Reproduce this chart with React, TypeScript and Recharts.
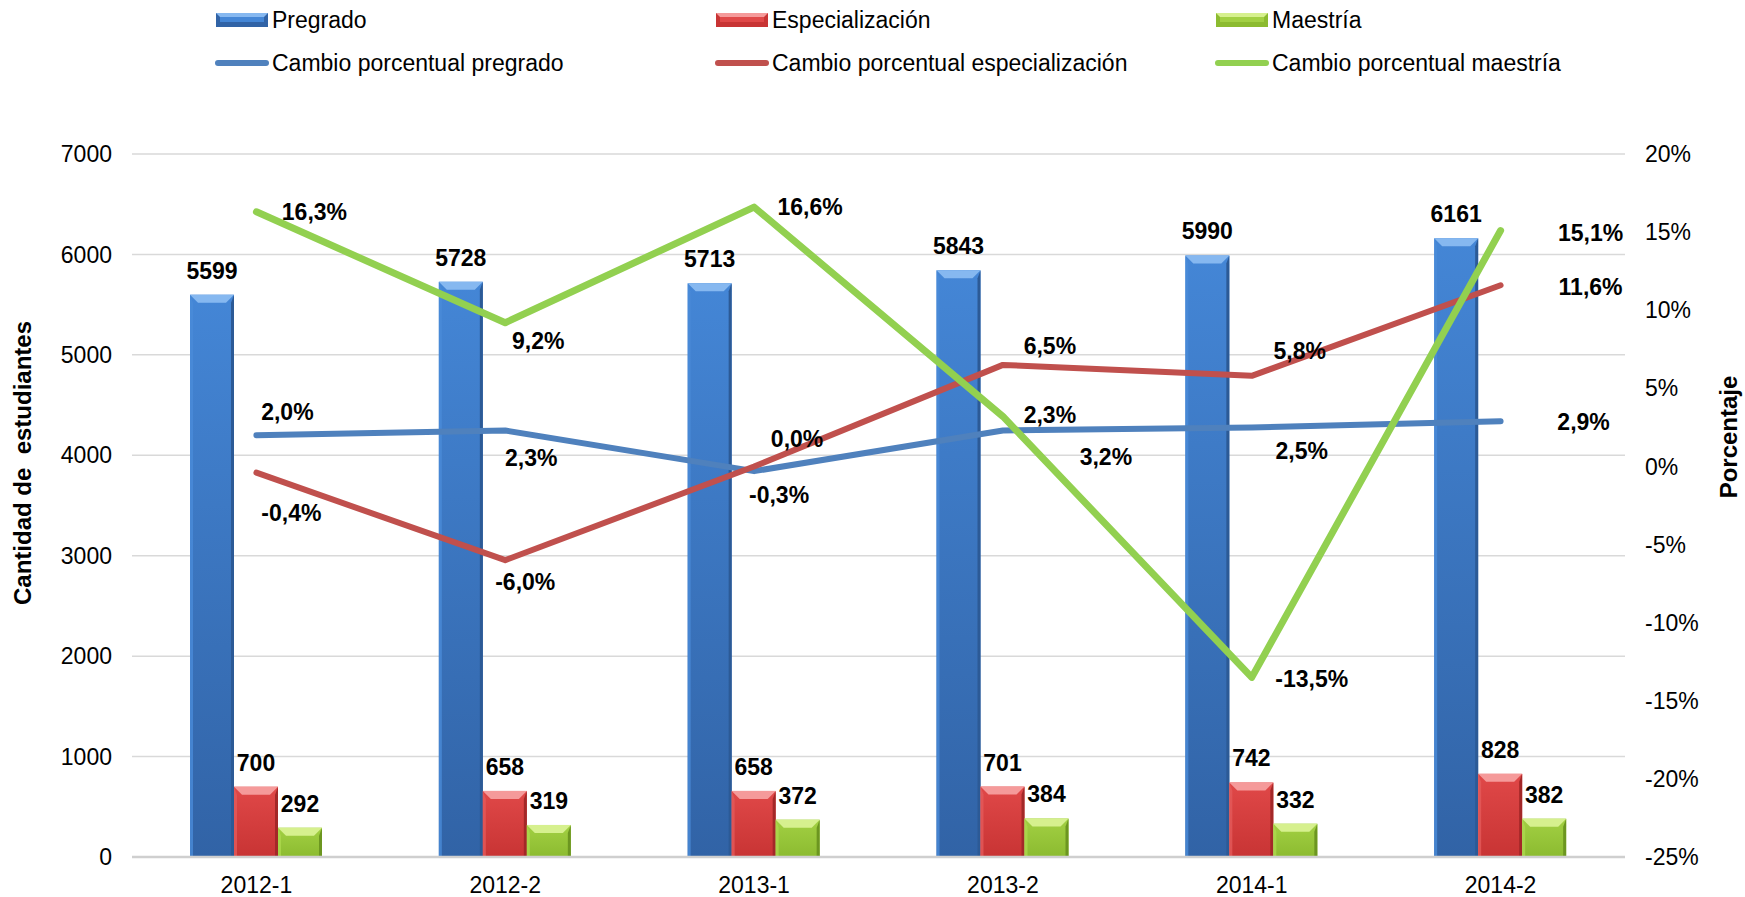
import React from 'react';
import {
  ComposedChart,
  Bar,
  Line,
  XAxis,
  YAxis,
  CartesianGrid,
  LabelList,
  Legend,
} from 'recharts';

// Enrolment by period (students) and percentage change per level
const periods = ['2012-1', '2012-2', '2013-1', '2013-2', '2014-1', '2014-2'];
const pregrado = [5599, 5728, 5713, 5843, 5990, 6161];
const especializacion = [700, 658, 658, 701, 742, 828];
const maestria = [292, 319, 372, 384, 332, 382];
const cambioPregrado = [2.0, 2.3, -0.3, 2.3, 2.5, 2.9];
const cambioEspecializacion = [-0.4, -6.0, 0.0, 6.5, 5.8, 11.6];
const cambioMaestria = [16.3, 9.2, 16.6, 3.2, -13.5, 15.1];

const countTicks = [0, 1000, 2000, 3000, 4000, 5000, 6000, 7000];
const percentTicks = [-25, -20, -15, -10, -5, 0, 5, 10, 15, 20];

const data = periods.map((period, i) => ({
  period,
  pregrado: pregrado[i],
  especializacion: especializacion[i],
  maestria: maestria[i],
  cambioPregrado: cambioPregrado[i],
  cambioEspecializacion: cambioEspecializacion[i],
  cambioMaestria: cambioMaestria[i],
}));

const FONT = '"Liberation Sans", Arial, Helvetica, sans-serif';

// bevel palettes for the 3D-looking bars
const BAR_STYLES: Record<string, { top: string; bottom: string; bevel: string; left: string; right: string }> = {
  blue: { top: '#4486d6', bottom: '#3163a6', bevel: '#86b8f0', left: '#4a8bd8', right: '#2c5a96' },
  red: { top: '#e04848', bottom: '#c83434', bevel: '#f59a9a', left: '#e45a5a', right: '#a32828' },
  green: { top: '#a2d043', bottom: '#8cbb30', bevel: '#d6f08e', left: '#acd84e', right: '#6c9620' },
};

const LINE_COLORS = { blue: '#4f81bd', red: '#c0504d', green: '#92d050' };

// where each percentage label sits relative to its point (dx, dy)
const labelOffsets: Record<string, number[][]> = {
  cambioPregrado: [[31, -23], [26, 27], [25, 24], [47, -16], [50, 24], [83, 1]],
  cambioEspecializacion: [[35, 40], [20, 22], [43, -27], [47, -19], [48, -25], [90, 2]],
  cambioMaestria: [[58, 0], [33, 18], [56, 0], [103, 41], [60, 2], [90, 2]],
};

const fmtPct = (v: number) => `${v.toFixed(1).replace('.', ',')}%`;

const bevelBar = (key: string) => (props: any) => {
  const { x, y, width, height } = props;
  if (!height || height <= 0) return <g />;
  const s = BAR_STYLES[key];
  const b = Math.min(8, height / 3);
  const side = Math.min(3, width / 6);
  const id = `face-${key}`;
  return (
    <g>
      <defs>
        <linearGradient id={id} x1="0" y1="0" x2="0" y2="1">
          <stop offset="0%" stopColor={s.top} />
          <stop offset="100%" stopColor={s.bottom} />
        </linearGradient>
      </defs>
      <rect x={x} y={y} width={width} height={height} fill={`url(#${id})`} />
      <polygon
        points={`${x},${y + height} ${x},${y} ${x + side},${y + b} ${x + side},${y + height}`}
        fill={s.left}
        opacity={0.8}
      />
      <polygon
        points={`${x + width},${y + height} ${x + width},${y} ${x + width - side},${y + b} ${x + width - side},${y + height}`}
        fill={s.right}
      />
      <polygon
        points={`${x},${y} ${x + width},${y} ${x + width - b},${y + b} ${x + b},${y + b}`}
        fill={s.bevel}
      />
    </g>
  );
};

const pointLabel = (dataKey: string) => (props: any) => {
  const { cx, cy, index, payload } = props;
  const [dx, dy] = labelOffsets[dataKey][index] || [0, 0];
  return (
    <text
      key={`${dataKey}-lbl-${index}`}
      x={cx + dx}
      y={cy + dy}
      textAnchor="middle"
      dominantBaseline="central"
      fontSize={23}
      fontWeight="bold"
      fill="#000"
      fontFamily={FONT}
    >
      {fmtPct(payload[dataKey])}
    </text>
  );
};

const AxisTitle = ({ px, py, text }: any) => (
  <text
    transform={`translate(${px},${py}) rotate(-90)`}
    textAnchor="middle"
    dominantBaseline="central"
    fontSize={24}
    fontWeight="bold"
    fill="#000"
    fontFamily={FONT}
    style={{ whiteSpace: 'pre' }}
  >
    {text}
  </text>
);

const legendItems = [
  { name: 'Pregrado', kind: 'bar', color: 'blue' },
  { name: 'Especialización', kind: 'bar', color: 'red' },
  { name: 'Maestría', kind: 'bar', color: 'green' },
  { name: 'Cambio porcentual pregrado', kind: 'line', color: 'blue' },
  { name: 'Cambio porcentual especialización', kind: 'line', color: 'red' },
  { name: 'Cambio porcentual maestría', kind: 'line', color: 'green' },
];

const LegendIcon = ({ kind, color }: { kind: string; color: string }) => {
  if (kind === 'line') {
    return (
      <svg width={56} height={10}>
        <line x1={4} y1={5} x2={52} y2={5} stroke={(LINE_COLORS as any)[color]} strokeWidth={6} strokeLinecap="round" />
      </svg>
    );
  }
  const s = BAR_STYLES[color];
  return (
    <svg width={56} height={16}>
      <rect x={2} y={1} width={52} height={14} fill={s.bottom} />
      <polygon points="2,1 54,1 50,5 6,5" fill={s.bevel} />
      <rect x={6} y={5} width={44} height={5} fill={s.top} />
    </svg>
  );
};

const ChartLegend = () => (
  <div style={{ position: 'relative', width: 1745, height: 90, fontFamily: FONT }}>
    {legendItems.map((item, i) => {
      const col = i % 3;
      const row = Math.floor(i / 3);
      return (
        <div
          key={item.name}
          style={{
            position: 'absolute',
            left: 214 + col * 500,
            top: 20 + row * 43 - 14,
            height: 28,
            display: 'flex',
            alignItems: 'center',
            fontSize: 23,
            color: '#000',
            whiteSpace: 'nowrap',
          }}
        >
          <LegendIcon kind={item.kind} color={item.color} />
          <span style={{ marginLeft: 2 }}>{item.name}</span>
        </div>
      );
    })}
  </div>
);

export default function App() {
  return (
    <div
      style={{
        position: 'absolute',
        left: 0,
        top: 0,
        width: 1745,
        height: 897,
        background: '#fff',
        fontFamily: FONT,
      }}
    >
      <ComposedChart
        width={1745}
        height={897}
        data={data}
        margin={{ top: 154, right: 30, bottom: 10, left: 42 }}
        barGap={0}
      >
        <CartesianGrid yAxisId="left" vertical={false} stroke="#d9d9d9" strokeWidth={1.5} />
        <XAxis
          dataKey="period"
          height={30}
          tickLine={false}
          tickSize={0}
          tickMargin={20}
          axisLine={{ stroke: '#cfcfcf', strokeWidth: 2.5 }}
          tick={{ fill: '#000', fontSize: 23, fontFamily: FONT }}
        />
        <YAxis
          yAxisId="left"
          width={90}
          domain={[0, 7000]}
          ticks={countTicks}
          interval={0}
          axisLine={false}
          tickLine={false}
          tickSize={0}
          tickMargin={20}
          tick={{ fill: '#000', fontSize: 23, fontFamily: FONT }}
          label={<AxisTitle px={22} py={463} text="Cantidad de  estudiantes" />}
        />
        <YAxis
          yAxisId="right"
          orientation="right"
          width={90}
          domain={[-25, 20]}
          ticks={percentTicks}
          interval={0}
          axisLine={false}
          tickLine={false}
          tickSize={0}
          tickMargin={20}
          tickFormatter={(v: number) => `${v}%`}
          tick={{ fill: '#000', fontSize: 23, fontFamily: FONT, textAnchor: 'start' }}
          label={<AxisTitle px={1728} py={437} text="Porcentaje" />}
        />
        <Legend
          verticalAlign="middle"
          align="center"
          layout="horizontal"
          wrapperStyle={{ top: 0, left: 0, width: 1745, height: 90 }}
          content={() => <ChartLegend />}
        />

        <Bar yAxisId="left" dataKey="pregrado" name="Pregrado" barSize={44} shape={bevelBar('blue')} isAnimationActive={false}>
          <LabelList dataKey="pregrado" position="top" offset={16} fill="#000" fontSize={23} fontWeight="bold" fontFamily={FONT} />
        </Bar>
        <Bar yAxisId="left" dataKey="especializacion" name="Especialización" barSize={44} shape={bevelBar('red')} isAnimationActive={false}>
          <LabelList dataKey="especializacion" position="top" offset={16} fill="#000" fontSize={23} fontWeight="bold" fontFamily={FONT} />
        </Bar>
        <Bar yAxisId="left" dataKey="maestria" name="Maestría" barSize={44} shape={bevelBar('green')} isAnimationActive={false}>
          <LabelList dataKey="maestria" position="top" offset={16} fill="#000" fontSize={23} fontWeight="bold" fontFamily={FONT} />
        </Bar>

        <Line
          yAxisId="right"
          type="linear"
          dataKey="cambioPregrado"
          name="Cambio porcentual pregrado"
          stroke={LINE_COLORS.blue}
          strokeWidth={6}
          strokeLinecap="round"
          strokeLinejoin="round"
          dot={pointLabel('cambioPregrado')}
          activeDot={false}
          isAnimationActive={false}
        />
        <Line
          yAxisId="right"
          type="linear"
          dataKey="cambioEspecializacion"
          name="Cambio porcentual especialización"
          stroke={LINE_COLORS.red}
          strokeWidth={6}
          strokeLinecap="round"
          strokeLinejoin="round"
          dot={pointLabel('cambioEspecializacion')}
          activeDot={false}
          isAnimationActive={false}
        />
        <Line
          yAxisId="right"
          type="linear"
          dataKey="cambioMaestria"
          name="Cambio porcentual maestría"
          stroke={LINE_COLORS.green}
          strokeWidth={7}
          strokeLinecap="round"
          strokeLinejoin="round"
          dot={pointLabel('cambioMaestria')}
          activeDot={false}
          isAnimationActive={false}
        />
      </ComposedChart>
    </div>
  );
}
